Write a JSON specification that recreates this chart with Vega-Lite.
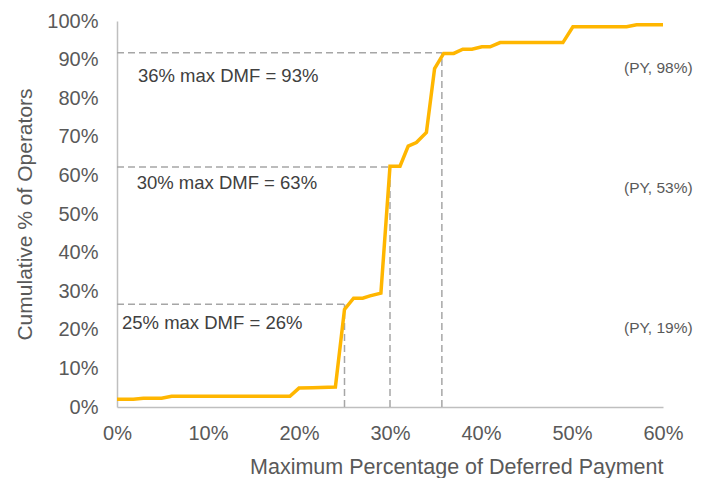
{
  "$schema": "https://vega.github.io/schema/vega-lite/v6.json",
  "width": 546,
  "height": 386,
  "autosize": "none",
  "padding": {"left": 117, "top": 21, "right": 44, "bottom": 71},
  "datasets": {
    "curve": [
      {"dmf": 0.0, "cum": 0.020},
      {"dmf": 0.018, "cum": 0.020},
      {"dmf": 0.029, "cum": 0.0225},
      {"dmf": 0.049, "cum": 0.0225},
      {"dmf": 0.060, "cum": 0.028},
      {"dmf": 0.190, "cum": 0.028},
      {"dmf": 0.200, "cum": 0.049},
      {"dmf": 0.215, "cum": 0.050},
      {"dmf": 0.240, "cum": 0.052},
      {"dmf": 0.250, "cum": 0.253},
      {"dmf": 0.260, "cum": 0.282},
      {"dmf": 0.270, "cum": 0.282},
      {"dmf": 0.278, "cum": 0.288},
      {"dmf": 0.290, "cum": 0.295},
      {"dmf": 0.300, "cum": 0.624},
      {"dmf": 0.311, "cum": 0.624},
      {"dmf": 0.320, "cum": 0.676},
      {"dmf": 0.329, "cum": 0.685},
      {"dmf": 0.340, "cum": 0.711},
      {"dmf": 0.349, "cum": 0.877},
      {"dmf": 0.359, "cum": 0.916},
      {"dmf": 0.370, "cum": 0.916},
      {"dmf": 0.380, "cum": 0.927},
      {"dmf": 0.390, "cum": 0.927},
      {"dmf": 0.401, "cum": 0.933},
      {"dmf": 0.410, "cum": 0.933},
      {"dmf": 0.421, "cum": 0.944},
      {"dmf": 0.490, "cum": 0.944},
      {"dmf": 0.501, "cum": 0.985},
      {"dmf": 0.560, "cum": 0.985},
      {"dmf": 0.571, "cum": 0.990},
      {"dmf": 0.600, "cum": 0.990}
    ],
    "guides": [
      {"xa": 0, "xb": 0.25, "ya": 0.266, "yb": 0.266},
      {"xa": 0.25, "xb": 0.25, "ya": 0, "yb": 0.266},
      {"xa": 0, "xb": 0.30, "ya": 0.622, "yb": 0.622},
      {"xa": 0.30, "xb": 0.30, "ya": 0, "yb": 0.622},
      {"xa": 0, "xb": 0.357, "ya": 0.918, "yb": 0.918},
      {"xa": 0.357, "xb": 0.357, "ya": 0, "yb": 0.918}
    ],
    "notes": [
      {"x": 0.023, "y": 0.858, "label": "36% max DMF = 93%"},
      {"x": 0.0216, "y": 0.580, "label": "30% max DMF = 63%"},
      {"x": 0.0055, "y": 0.218, "label": "25% max DMF = 26%"}
    ],
    "prior": [
      {"x": 0.6326, "y": 0.878, "label": "(PY, 98%)"},
      {"x": 0.6326, "y": 0.567, "label": "(PY, 53%)"},
      {"x": 0.6326, "y": 0.205, "label": "(PY, 19%)"}
    ]
  },
  "layer": [
    {
      "data": {"name": "guides"},
      "mark": {"type": "rule", "color": "#A6A6A6", "strokeWidth": 1.5, "strokeDash": [7, 4]},
      "encoding": {
        "x": {
          "field": "xa",
          "type": "quantitative",
          "scale": {"domain": [0, 0.6], "nice": false},
          "axis": {
            "title": "Maximum Percentage of Deferred Payment",
            "values": [0, 0.1, 0.2, 0.3, 0.4, 0.5, 0.6],
            "format": ".0%",
            "grid": false,
            "ticks": false,
            "labelPadding": 16,
            "labelFlush": false,
            "labelOverlap": false,
            "titleFontSize": 21.5,
            "titleAnchor": "end",
            "titleAlign": "right",
            "titleBaseline": "middle",
            "titleX": 546,
            "titleY": 60
          }
        },
        "x2": {"field": "xb"},
        "y": {
          "field": "ya",
          "type": "quantitative",
          "scale": {"domain": [0, 1], "nice": false},
          "axis": {
            "title": "Cumulative % of Operators",
            "values": [0, 0.1, 0.2, 0.3, 0.4, 0.5, 0.6, 0.7, 0.8, 0.9, 1],
            "tickCount": 11,
            "format": ".0%",
            "grid": false,
            "ticks": false,
            "labelPadding": 19,
            "labelFlush": false,
            "labelOverlap": false,
            "titleAngle": -90,
            "titleAlign": "center",
            "titleBaseline": "middle",
            "titleX": -92,
            "titleY": 193
          }
        },
        "y2": {"field": "yb"}
      }
    },
    {
      "data": {"name": "curve"},
      "mark": {"type": "line", "color": "#FFB600", "strokeWidth": 3.5, "strokeJoin": "miter"},
      "encoding": {
        "x": {"field": "dmf", "type": "quantitative"},
        "y": {"field": "cum", "type": "quantitative"}
      }
    },
    {
      "data": {"name": "notes"},
      "mark": {"type": "text", "align": "left", "baseline": "middle", "fontSize": 18.5, "color": "#404040", "font": "Liberation Sans"},
      "encoding": {
        "x": {"field": "x", "type": "quantitative"},
        "y": {"field": "y", "type": "quantitative"},
        "text": {"field": "label"}
      }
    },
    {
      "data": {"name": "prior"},
      "mark": {"type": "text", "align": "right", "baseline": "middle", "fontSize": 15.5, "color": "#595959", "font": "Liberation Sans", "clip": false},
      "encoding": {
        "x": {"field": "x", "type": "quantitative"},
        "y": {"field": "y", "type": "quantitative"},
        "text": {"field": "label"}
      }
    }
  ],
  "config": {
    "background": "white",
    "view": {"stroke": null},
    "font": "Liberation Sans",
    "axis": {
      "domainColor": "#BFBFBF",
      "domainWidth": 1.5,
      "labelFont": "Liberation Sans",
      "labelFontSize": 20,
      "labelColor": "#595959",
      "titleFont": "Liberation Sans",
      "titleFontSize": 21,
      "titleFontWeight": "normal",
      "titleColor": "#595959"
    }
  }
}
